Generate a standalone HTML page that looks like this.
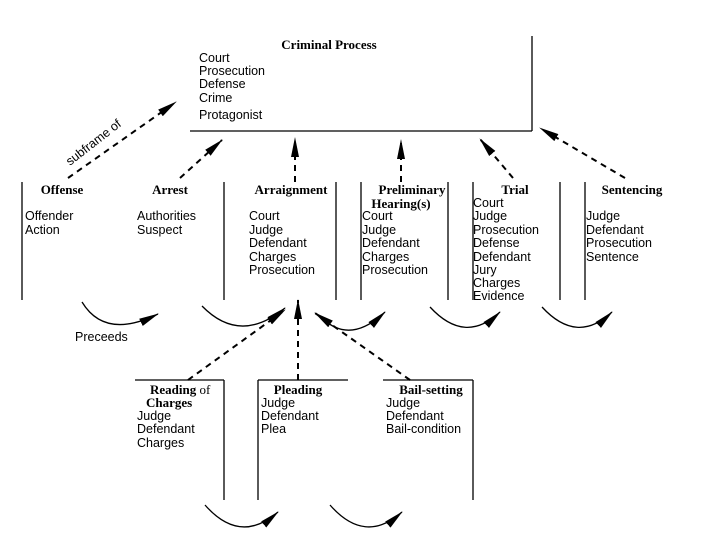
<!DOCTYPE html>
<html><head><style>
body{margin:0;background:#fff}
svg{display:block}
.s{font-family:"Liberation Sans",sans-serif;font-size:12.5px;fill:#000}
.h{font-family:"Liberation Serif",serif;font-size:13px;font-weight:bold;fill:#000}
line,path{stroke:#000;stroke-width:1.3;fill:none}
.d{stroke-dasharray:6,5;stroke-width:2}
</style></head><body>
<svg width="720" height="540" viewBox="0 0 720 540">
<defs>
<marker id="b" markerWidth="20" markerHeight="10" refX="19" refY="5" orient="auto" markerUnits="userSpaceOnUse" viewBox="0 0 20 10"><path d="M0,1 L20,5 L0,9 Z" style="fill:#000;stroke:none"/></marker></defs>
<!-- top box -->
<line x1="532" y1="36" x2="532" y2="131"/><line x1="190" y1="131" x2="532" y2="131"/>
<text class="h" x="329" y="49" text-anchor="middle">Criminal Process</text>
<text class="s" x="199" y="62">Court</text><text class="s" x="199" y="75">Prosecution</text><text class="s" x="199" y="88">Defense</text><text class="s" x="199" y="102">Crime</text><text class="s" x="199" y="119">Protagonist</text>
<!-- verticals -->
<g><line x1="22" y1="182" x2="22" y2="300"/><line x1="224" y1="182" x2="224" y2="300"/><line x1="336" y1="182" x2="336" y2="300"/><line x1="361" y1="182" x2="361" y2="300"/><line x1="448" y1="182" x2="448" y2="300"/><line x1="473" y1="182" x2="473" y2="300"/><line x1="560" y1="182" x2="560" y2="300"/><line x1="585" y1="182" x2="585" y2="300"/></g>
<text class="h" x="62" y="194" text-anchor="middle">Offense</text>
<text class="h" x="170" y="194" text-anchor="middle">Arrest</text>
<text class="h" x="291" y="194" text-anchor="middle">Arraignment</text>
<text class="h" x="412" y="194" text-anchor="middle">Preliminary</text><text class="h" x="401" y="208" text-anchor="middle">Hearing(s)</text>
<text class="h" x="515" y="194" text-anchor="middle">Trial</text>
<text class="h" x="632" y="194" text-anchor="middle">Sentencing</text>
<text class="s" x="25" y="220">Offender</text><text class="s" x="25" y="234">Action</text>
<text class="s" x="137" y="220">Authorities</text><text class="s" x="137" y="234">Suspect</text>
<text class="s" x="249" y="220">Court</text><text class="s" x="249" y="234">Judge</text><text class="s" x="249" y="247">Defendant</text><text class="s" x="249" y="261">Charges</text><text class="s" x="249" y="274">Prosecution</text>
<text class="s" x="362" y="220">Court</text><text class="s" x="362" y="234">Judge</text><text class="s" x="362" y="247">Defendant</text><text class="s" x="362" y="261">Charges</text><text class="s" x="362" y="274">Prosecution</text>
<text class="s" x="473" y="207">Court</text><text class="s" x="473" y="220">Judge</text><text class="s" x="473" y="234">Prosecution</text><text class="s" x="473" y="247">Defense</text><text class="s" x="473" y="261">Defendant</text><text class="s" x="473" y="274">Jury</text><text class="s" x="473" y="287">Charges</text><text class="s" x="473" y="300">Evidence</text>
<text class="s" x="586" y="220">Judge</text><text class="s" x="586" y="234">Defendant</text><text class="s" x="586" y="247">Prosecution</text><text class="s" x="586" y="261">Sentence</text>
<!-- dashed arrows to top -->
<line class="d" x1="68" y1="178" x2="176" y2="102" marker-end="url(#b)"/>
<text class="s" x="0" y="0" transform="translate(70,166) rotate(-38)">subframe of</text>
<line class="d" x1="180" y1="178" x2="222" y2="140" marker-end="url(#b)"/>
<line class="d" x1="295" y1="182" x2="295" y2="138" marker-end="url(#b)"/>
<line class="d" x1="401" y1="182" x2="401" y2="140" marker-end="url(#b)"/>
<line class="d" x1="513" y1="178" x2="480" y2="139" marker-end="url(#b)"/>
<line class="d" x1="625" y1="178" x2="540" y2="128" marker-end="url(#b)"/>
<!-- precedes curves -->
<path d="M82,302 Q105,340 158,314" marker-end="url(#b)"/>
<text class="s" x="75" y="341">Preceeds</text>
<path d="M202,306 Q240,345 285,308" marker-end="url(#b)"/>
<path d="M322,318 Q350,345 385,312" marker-end="url(#b)"/>
<path d="M430,307 Q465,345 500,312" marker-end="url(#b)"/>
<path d="M542,307 Q577,345 612,312" marker-end="url(#b)"/>
<path d="M205,505 Q240,545 278,512" marker-end="url(#b)"/>
<path d="M330,505 Q365,545 402,512" marker-end="url(#b)"/>
<!-- sub boxes -->
<line x1="135" y1="380" x2="224" y2="380"/><line x1="224" y1="380" x2="224" y2="500"/>
<line x1="258" y1="380" x2="348" y2="380"/><line x1="258" y1="380" x2="258" y2="500"/>
<line x1="383" y1="380" x2="473" y2="380"/><line x1="473" y1="380" x2="473" y2="500"/>
<text class="h" x="150" y="394">Reading <tspan font-weight="normal">of</tspan></text><text class="h" x="146" y="407">Charges</text>
<text class="s" x="137" y="420">Judge</text><text class="s" x="137" y="433">Defendant</text><text class="s" x="137" y="447">Charges</text>
<text class="h" x="298" y="394" text-anchor="middle">Pleading</text>
<text class="s" x="261" y="407">Judge</text><text class="s" x="261" y="420">Defendant</text><text class="s" x="261" y="433">Plea</text>
<text class="h" x="431" y="394" text-anchor="middle">Bail-setting</text>
<text class="s" x="386" y="407">Judge</text><text class="s" x="386" y="420">Defendant</text><text class="s" x="386" y="433">Bail-condition</text>
<line class="d" x1="188" y1="380" x2="285" y2="310" marker-end="url(#b)"/>
<line class="d" x1="298" y1="380" x2="298" y2="300" marker-end="url(#b)"/>
<line class="d" x1="410" y1="380" x2="315" y2="313" marker-end="url(#b)"/>
</svg>
</body></html>
